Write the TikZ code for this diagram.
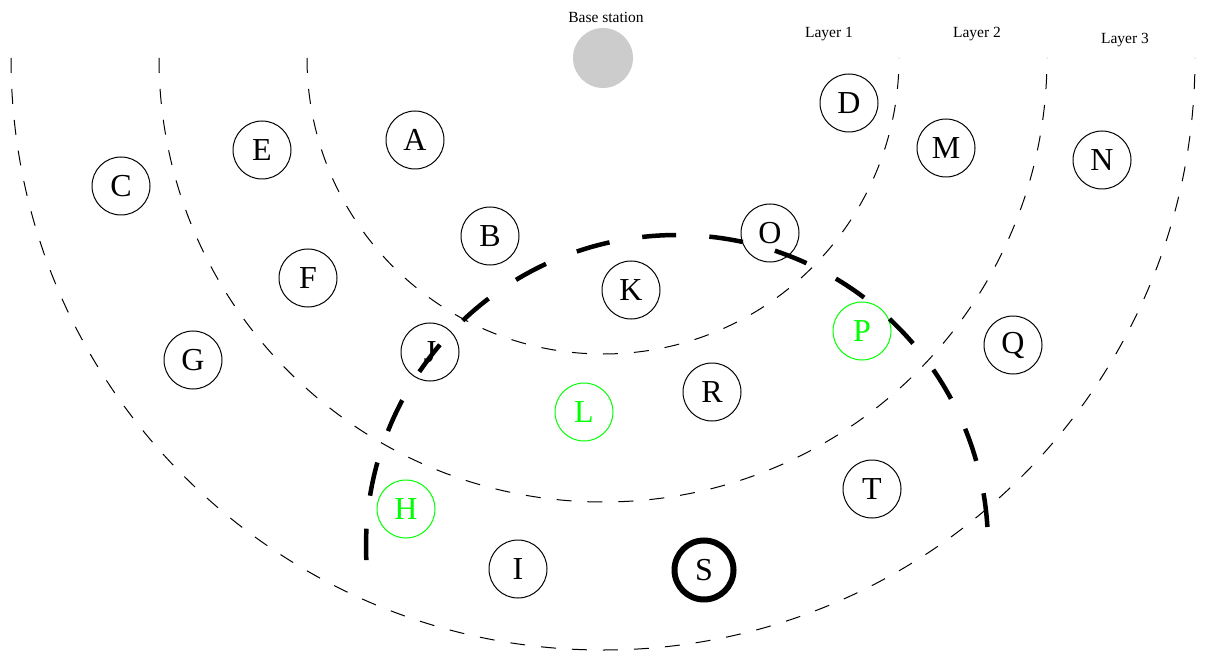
\documentclass[tikz,border=0pt]{standalone}
\usepackage{fontspec}
\setmainfont{Liberation Serif}
\begin{document}
\begin{tikzpicture}
[
    x=1pt, y=1pt,
    sensor/.style={draw, circle, minimum size=58pt, inner sep=0pt, line width=1pt, font=\fontsize{32}{32}\selectfont},
    relay/.style={sensor, draw=green, text=green},
    srcnode/.style={sensor, line width=6pt, minimum size=59pt},
    layer/.style={line width=1pt, dash pattern=on 15pt off 16pt},
    reach/.style={line width=4.5pt, dash pattern=on 34pt off 33.2pt},
    tag/.style={font=\fontsize{15.5}{16}\selectfont}
]
    \useasboundingbox (0,0) rectangle (1207,-652);

    \node [circle, fill=black!20, minimum size=60pt, inner sep=0pt] (base) at (603,-58) {};
    \node [tag] at (606,-17) {Base station};
    \node [tag] at (829,-34) {Layer 1};
    \node [tag] at (977,-34) {Layer 2};
    \node [tag] at (1125,-40) {Layer 3};

    \foreach \r in {296,444,592}
        \draw [layer] (base.center) ++(-\r,0) arc [start angle=180, end angle=360, radius=\r];

    \node [sensor] (A) at (415,-140) {A};
    \node [sensor] (B) at (490,-236) {B};
    \node [sensor] (C) at (121,-186) {C};
    \node [sensor] (D) at (849,-103) {D};
    \node [sensor] (E) at (262,-150) {E};
    \node [sensor] (F) at (308,-278) {F};
    \node [sensor] (G) at (193,-360) {G};
    \node [relay] (H) at (406,-509) {H};
    \node [sensor] (I) at (518,-569) {I};
    \node [sensor] (J) at (430,-352) {J};
    \node [sensor] (K) at (631,-290) {K};
    \node [relay] (L) at (584,-412) {L};
    \node [sensor] (M) at (946,-148) {M};
    \node [sensor] (N) at (1102,-160) {N};
    \node [sensor] (O) at (770,-233) {O};
    \node [relay] (P) at (862,-331) {P};
    \node [sensor] (Q) at (1013,-345) {Q};
    \node [sensor] (R) at (712,-392) {R};
    \node [srcnode] (S) at (704,-570) {S};
    \node [sensor] (T) at (872,-489) {T};

    \coordinate (hub) at (677,-546);
    \draw [reach] (hub) ++(3.5:311) arc [start angle=3.5, end angle=182.6, radius=311];
\end{tikzpicture}
\end{document}
